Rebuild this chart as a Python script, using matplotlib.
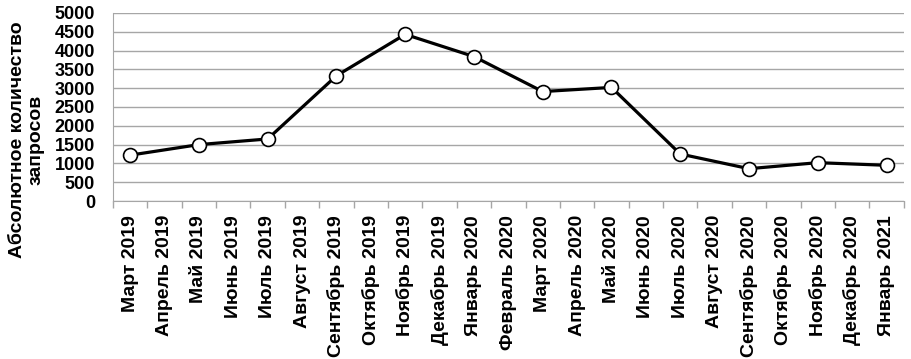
import numpy as np
import matplotlib.pyplot as plt
from matplotlib.ticker import FixedLocator

plt.rcParams['font.family'] = ['Liberation Sans', 'DejaVu Sans']
plt.rcParams['font.weight'] = 'bold'

months = ['Март 2019', 'Апрель 2019', 'Май 2019', 'Июнь 2019', 'Июль 2019',
          'Август 2019', 'Сентябрь 2019', 'Октябрь 2019', 'Ноябрь 2019',
          'Декабрь 2019', 'Январь 2020', 'Февраль 2020', 'Март 2020',
          'Апрель 2020', 'Май 2020', 'Июнь 2020', 'Июль 2020', 'Август 2020',
          'Сентябрь 2020', 'Октябрь 2020', 'Ноябрь 2020', 'Декабрь 2020',
          'Январь 2021']
# values only for every other month
point_months = ['Март 2019', 'Май 2019', 'Июль 2019', 'Сентябрь 2019',
                'Ноябрь 2019', 'Январь 2020', 'Март 2020', 'Май 2020',
                'Июль 2020', 'Сентябрь 2020', 'Ноябрь 2020', 'Январь 2021']
requests = [1220, 1500, 1650, 3330, 4430, 3840, 2910, 3020, 1250, 860, 1020, 950]

x = [months.index(m) for m in point_months]

fig = plt.figure(figsize=(9.11, 3.59), dpi=100)
ax = fig.add_axes([0.124, 0.44, 0.868, 0.524])

ax.plot(x, requests, color='black', lw=2.3, marker='o', ms=10,
        mfc='white', mec='black', mew=1.2, zorder=3)

ax.set_xlim(-0.5, len(months) - 0.5)
ax.set_ylim(0, 5000)
ax.set_yticks(np.arange(0, 5001, 500))
ax.tick_params(axis='y', length=0, labelsize=13, pad=13)
ax.grid(axis='y', color='#a6a6a6', lw=1)
ax.set_axisbelow(True)

ax.set_xticks(range(len(months)))
ax.set_xticklabels(months, rotation=90, fontsize=14)
ax.tick_params(axis='x', which='major', length=0, pad=10)
ax.xaxis.set_minor_locator(FixedLocator(np.arange(-0.5, len(months), 1)))
ax.tick_params(axis='x', which='minor', length=5, color='#a6a6a6', width=1)

for s in ['top', 'right']:
    ax.spines[s].set_visible(False)
for s in ['left', 'bottom']:
    ax.spines[s].set_color('#a6a6a6')

fig.text(27 / 911, 1 - 140 / 359, 'Абсолютное количество\nзапросов',
         rotation=90, ha='center', va='center', fontsize=14,
         fontweight='bold', linespacing=1.1, multialignment='center')

fig.savefig('out.png', dpi=100)
